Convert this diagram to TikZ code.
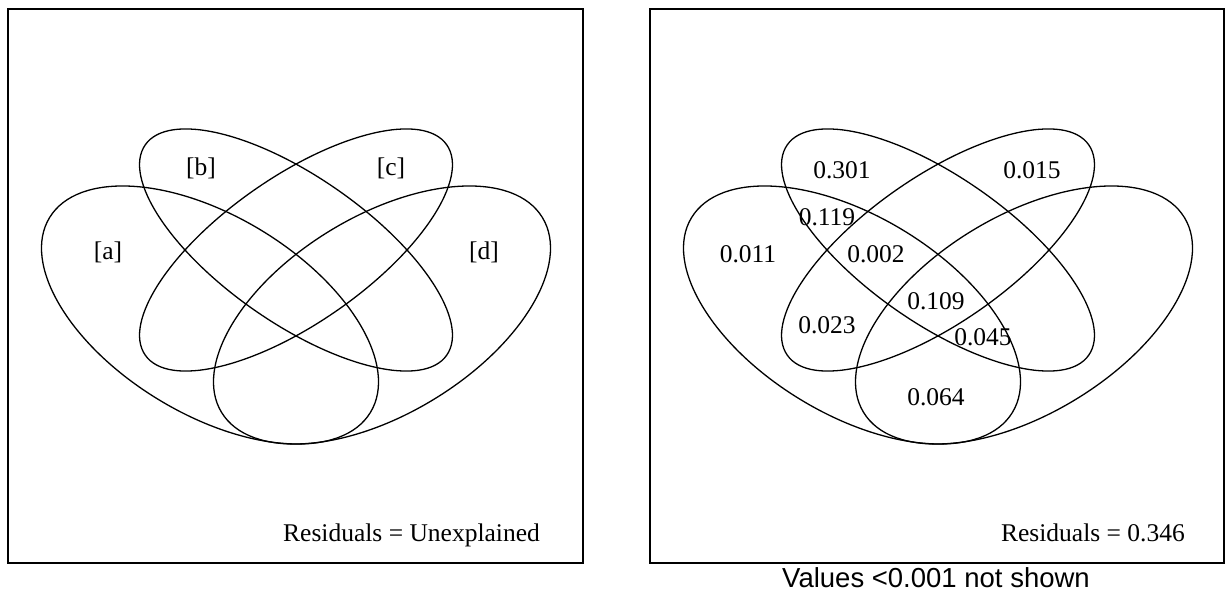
\documentclass[tikz,border=0pt]{standalone}
\usepackage{fontspec}
\setmainfont{Liberation Serif}
\newfontfamily\capfont{Liberation Sans}
\begin{document}
\begin{tikzpicture}[x=1pt,y=1pt,
  panel/.style={draw,line width=1.5pt},
  setline/.style={draw,line width=1.3pt},
  lab/.style={inner sep=0pt,font=\fontsize{25.5}{30}\selectfont},
  resid/.style={inner sep=0pt,anchor=base east,font=\fontsize{25.5}{30}\selectfont},
  captext/.style={inner sep=0pt,anchor=base,font=\capfont\fontsize{27.5}{32}\selectfont}]
\useasboundingbox (0,0) rectangle (1229,592);
% two panels
\draw[panel] (8,29) rectangle (583,583);
\draw[panel] (650,29) rectangle (1224,583);
% the four sets, drawn once per panel
\foreach \dx in {0,642}{
  \begin{scope}[xshift=\dx]
    \draw[setline,rotate around={-31.25:(210,277)}] (210,277) ellipse [x radius=187.7,y radius=99];
    \draw[setline,rotate around={31.25:(382,277)}] (382,277) ellipse [x radius=187.7,y radius=99];
    \draw[setline,rotate around={-34.9:(296,342)}] (296,342) ellipse [x radius=183.8,y radius=73.1];
    \draw[setline,rotate around={34.9:(296,342)}] (296,342) ellipse [x radius=183.8,y radius=73.1];
  \end{scope}
}
% left panel labels
\node[lab] (la) at (108,340) {[a]};
\node[lab] (lb) at (201,424) {[b]};
\node[lab] (lc) at (391,424) {[c]};
\node[lab] (ld) at (484,340) {[d]};
\node[resid] (lres) at (540,51) {Residuals = Unexplained};
% right panel fractions
\node[lab] (v1) at (842,422) {0.301};
\node[lab] (v2) at (1032,422) {0.015};
\node[lab] (v3) at (827,375) {0.119};
\node[lab] (v4) at (748,338) {0.011};
\node[lab] (v5) at (876,338) {0.002};
\node[lab] (v6) at (936,291) {0.109};
\node[lab] (v7) at (827,267) {0.023};
\node[lab] (v8) at (983,255) {0.045};
\node[lab] (v9) at (936,195) {0.064};
\node[resid] (rres) at (1185,51) {Residuals = 0.346};
\node[captext] (caption) at (936,5) {Values <0.001 not shown};
\end{tikzpicture}
\end{document}
